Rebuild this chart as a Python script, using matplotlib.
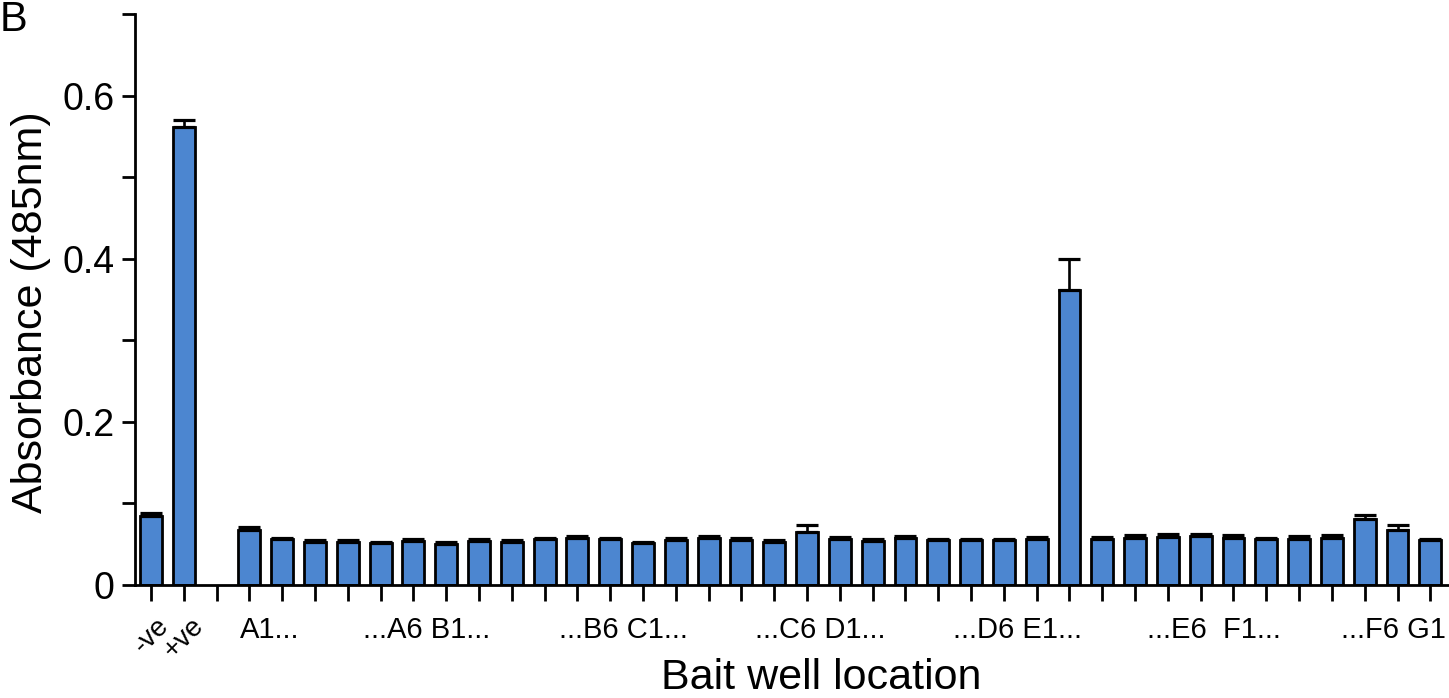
import numpy as np
import matplotlib
matplotlib.use("Agg")
import matplotlib.pyplot as plt
import matplotlib.transforms as mtrans
from matplotlib.ticker import FixedLocator

plt.rcParams['font.family'] = ['Liberation Sans', 'DejaVu Sans']

# ---- data ----
controls = ["-ve", "+ve"]
control_values = [0.085, 0.562]
control_errors = [0.003, 0.008]

wells = ([f"A{i}" for i in range(1, 7)] + [f"B{i}" for i in range(1, 7)] +
         [f"C{i}" for i in range(1, 7)] + [f"D{i}" for i in range(1, 7)] +
         [f"E{i}" for i in range(1, 7)] + [f"F{i}" for i in range(1, 7)] + ["G1"])
well_values = [0.068, 0.056, 0.053, 0.053, 0.051, 0.054,
               0.050, 0.054, 0.053, 0.056, 0.058, 0.056,
               0.051, 0.055, 0.058, 0.055, 0.053, 0.065,
               0.056, 0.054, 0.058, 0.055, 0.055, 0.055,
               0.056, 0.362, 0.057, 0.058, 0.059, 0.060,
               0.058, 0.056, 0.057, 0.058, 0.081, 0.067,
               0.055]
well_errors = [0.003, 0.002, 0.002, 0.002, 0.002, 0.002,
               0.003, 0.002, 0.002, 0.002, 0.002, 0.002,
               0.002, 0.003, 0.002, 0.003, 0.002, 0.009,
               0.003, 0.002, 0.002, 0.002, 0.002, 0.002,
               0.003, 0.038, 0.002, 0.003, 0.003, 0.003,
               0.003, 0.002, 0.003, 0.003, 0.005, 0.007,
               0.002]

group_labels = ["A1...", "...A6 B1...", "...B6 C1...", "...C6 D1...",
                "...D6 E1...", "...E6  F1...", "...F6 G1"]

bar_color = "#4C86D0"

# ---- figure ----
W, H = 1449, 698
fig = plt.figure(figsize=(W / 100, H / 100), dpi=100)
ax_left, ax_right = 135 / W, 1.0
ax_bottom, ax_top = (H - 585) / H, (H - 14) / H
ax = fig.add_axes([ax_left, ax_bottom, ax_right - ax_left, ax_top - ax_bottom])

labels = controls + [""] + wells
values = np.array(control_values + [np.nan] + well_values)
errors = np.array(control_errors + [0.0] + well_errors)
x = np.arange(len(labels))

ax.bar(x, values, width=0.67, color=bar_color, edgecolor="black", linewidth=2.0, zorder=2)
mask = ~np.isnan(values)
ax.errorbar(x[mask], values[mask], yerr=[np.zeros(mask.sum()), errors[mask]],
            fmt="none", ecolor="black", elinewidth=1.9, capsize=8, capthick=2.3, zorder=3)

ax.set_xlim(-0.49, 39.57)
ax.set_ylim(0, 0.7)

for s in ["top", "right"]:
    ax.spines[s].set_visible(False)
for s in ["left", "bottom"]:
    ax.spines[s].set_linewidth(2.0)

ax.yaxis.set_major_locator(FixedLocator([0, 0.2, 0.4, 0.6]))
ax.yaxis.set_minor_locator(FixedLocator([0.1, 0.3, 0.5, 0.7]))
ax.set_yticklabels(["0", "0.2", "0.4", "0.6"], fontsize=27)
ax.tick_params(axis="y", which="both", length=9.5, width=2.0, pad=5, direction="out")

ax.set_xticks(x)
ax.set_xticklabels([""] * len(x))
ax.tick_params(axis="x", length=11.5, width=2.0, direction="out")

trans = mtrans.blended_transform_factory(ax.transData, ax.transAxes)
for i, lab in enumerate(controls):
    ax.text(x[i], -0.048, lab, rotation=45, ha="center", va="top",
            fontsize=20, transform=trans)

first = 3
group_x = [first + 0.63]
for g in range(1, 6):
    group_x.append(first + 6 * g - 0.6)
group_x.append(first + 36 - 1.13)
for gx, lab in zip(group_x, group_labels):
    ax.text(gx, -0.055, lab, ha="center", va="top", fontsize=21, transform=trans)

fig.text(821 / W, (H - 689) / H, "Bait well location", ha="center", va="baseline", fontsize=31)
fig.text(31 / W, 1 - 312 / H, "Absorbance (485nm)", rotation=90, ha="center", va="center", fontsize=31)
fig.text(0 / W, 1.0, "B", ha="left", va="top", fontsize=30)

fig.savefig("out.png", dpi=100)
